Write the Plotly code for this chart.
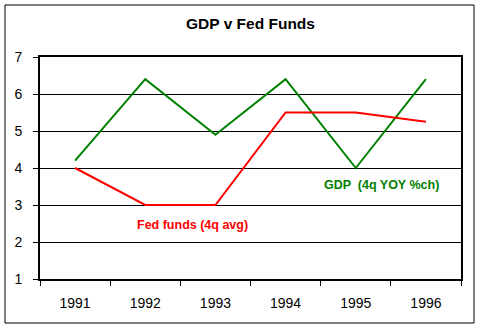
import plotly.graph_objects as go

years = ["1991", "1992", "1993", "1994", "1995", "1996"]
gdp = [4.2, 6.4, 4.9, 6.4, 4.0, 6.4]
fed_funds = [4.0, 3.0, 3.0, 5.5, 5.5, 5.25]
y_ticks = [1, 2, 3, 4, 5, 6, 7]

fig = go.Figure()
fig.add_trace(go.Scatter(x=years, y=gdp, mode="lines", line=dict(color="#008000", width=2),
                         name="GDP (4q YOY %ch)", showlegend=False))
fig.add_trace(go.Scatter(x=years, y=fed_funds, mode="lines", line=dict(color="#FF0000", width=2),
                         name="Fed funds (4q avg)", showlegend=False))

font = "Arial, Liberation Sans, sans-serif"
fig.update_layout(
    width=480, height=330,
    margin=dict(l=40, r=19, t=57, b=51),
    paper_bgcolor="white", plot_bgcolor="white",
    font=dict(family=font, size=14, color="black"),
    title=dict(text="<b>GDP v Fed Funds</b>", x=0.5, xref="paper", xanchor="center",
               y=1 - 24 / 330, yanchor="middle",
               font=dict(family=font, size=15.5, color="black")),
    xaxis=dict(type="category", range=[-0.5, 5.5], showgrid=False,
               showline=True, linecolor="black", linewidth=2, mirror=True,
               ticks="outside", tickson="boundaries", ticklen=5, tickcolor="black",
               tickfont=dict(size=14), ticklabelstandoff=10, fixedrange=True),
    yaxis=dict(range=[1, 7], tickvals=y_ticks, showgrid=True, gridcolor="black", gridwidth=1,
               showline=True, linecolor="black", linewidth=2, mirror=True,
               ticks="outside", ticklen=5, tickcolor="black", zeroline=False,
               tickfont=dict(size=14), ticklabelstandoff=8, fixedrange=True),
    shapes=[dict(type="rect", xref="paper", yref="paper",
                 x0=(5 - 40) / 421, x1=(474 - 40) / 421,
                 y0=(279 - 323) / 222, y1=(279 - 5) / 222,
                 line=dict(color="black", width=1), layer="below")],
    annotations=[
        dict(x=4.37, y=3.54, xref="x", yref="y", text="<b>GDP  (4q YOY %ch)</b>", showarrow=False,
             font=dict(family=font, size=12.5, color="#008000")),
        dict(x=1.68, y=2.46, xref="x", yref="y", text="<b>Fed funds (4q avg)</b>", showarrow=False,
             font=dict(family=font, size=12.5, color="#FF0000")),
    ],
)

fig.write_html("out.html")
